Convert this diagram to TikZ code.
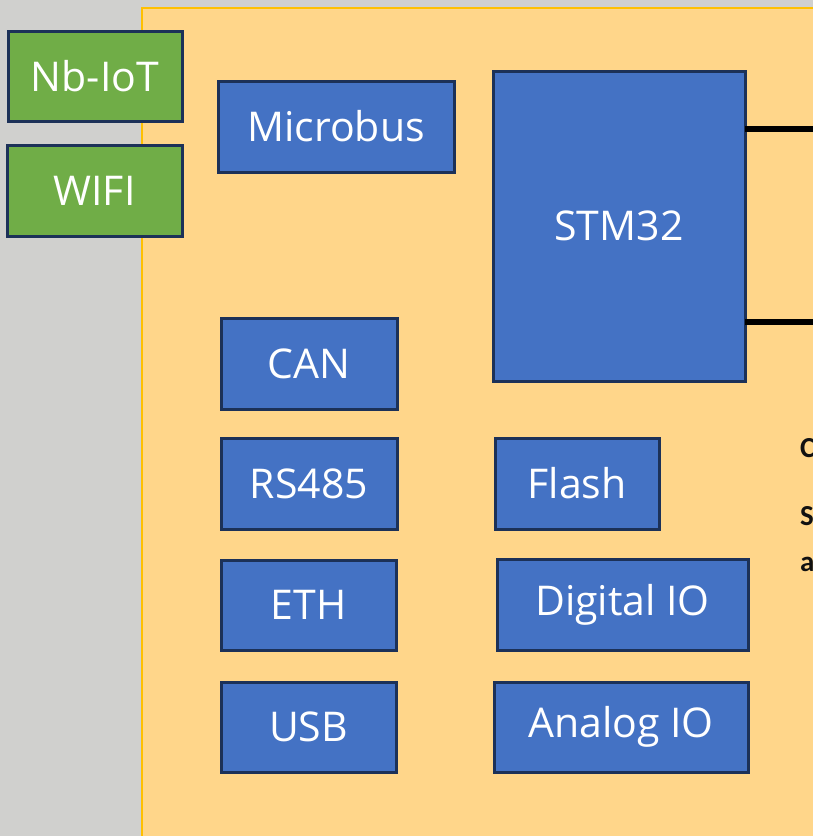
\documentclass[tikz,border=0pt]{standalone}
\usepackage{fontspec}
\setmainfont{Open Sans}
\newfontfamily\notefont{Carlito}
\begin{document}
\begin{tikzpicture}[x=1pt,y=-1pt,
  bluebox/.style={draw=navyb, fill=boxblue, line width=3pt, anchor=north west,
    inner sep=0pt, outer sep=0pt, text=white, font=\fontsize{41}{46}\selectfont},
  greenbox/.style={bluebox, fill=boxgreen},
  link/.style={line width=5.5pt, black},
  note/.style={anchor=base west, inner sep=0pt, font=\notefont\bfseries\fontsize{29}{32}\selectfont, text=notetext}]
\definecolor{navyb}{HTML}{1C3158}
\definecolor{boxblue}{HTML}{4472C4}
\definecolor{boxgreen}{HTML}{70AD47}
\definecolor{bggray}{HTML}{D0D0CE}
\definecolor{panel}{HTML}{FFD68A}
\definecolor{panelline}{HTML}{FFC000}
\definecolor{notetext}{HTML}{111111}
\useasboundingbox (0,0) rectangle (813,836);
\fill[bggray] (0,0) rectangle (813,836);
\filldraw[fill=panel, draw=panelline, line width=2pt] (142,8) rectangle (830,850);
% boxes
\node[greenbox, minimum width=174pt, minimum height=90pt] (nbiot) at (8,31) {Nb-IoT};
\node[greenbox, minimum width=175pt, minimum height=91pt] (wifi) at (7,145) {WIFI};
\node[bluebox, minimum width=236pt, minimum height=91pt] (microbus) at (218,81) {Microbus};
\node[bluebox, minimum width=252pt, minimum height=310pt] (stm) at (493,71) {STM32};
\node[bluebox, minimum width=176pt, minimum height=91pt] (can) at (221,318) {CAN};
\node[bluebox, minimum width=176pt, minimum height=91pt] (rs485) at (221,438) {RS485};
\node[bluebox, minimum width=164pt, minimum height=91pt] (flash) at (495,438) {Flash};
\node[bluebox, minimum width=175pt, minimum height=90pt] (eth) at (221,560) {ETH};
\node[bluebox, minimum width=251pt, minimum height=91pt] (dio) at (497,559) {Digital IO};
\node[bluebox, minimum width=175pt, minimum height=90pt] (usb) at (221,682) {USB};
\node[bluebox, minimum width=254pt, minimum height=90pt] (aio) at (494,682) {Analog IO};
% connectors leaving to the right
\coordinate (r1) at (820,129);
\coordinate (r2) at (820,322);
\draw[link] (stm.east |- r1) -- (r1);
\draw[link] (stm.east |- r2) -- (r2);
% cut-off notes
\node[note] (n1) at (800,457) {C};
\node[note] (n2) at (800,525) {S};
\node[note] (n3) at (800,571) {a};
\end{tikzpicture}
\end{document}
